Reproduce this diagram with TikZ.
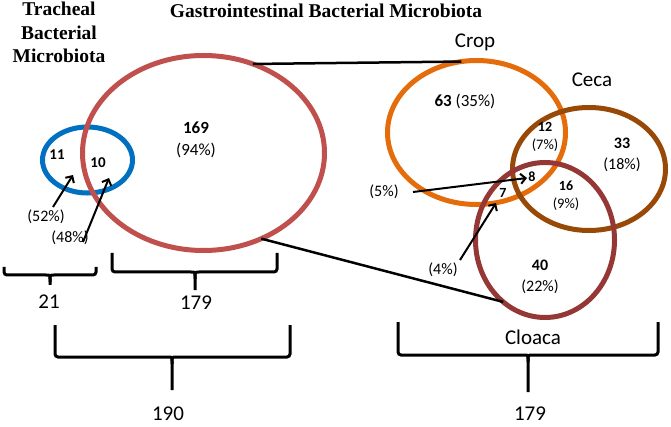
\documentclass[tikz,border=0pt]{standalone}
\usepackage{fontspec}
\setmainfont{Carlito}
\newfontfamily\headfont{Liberation Serif}
\usetikzlibrary{arrows.meta,shapes.geometric}
\definecolor{trachblue}{HTML}{0070C0}
\definecolor{gired}{HTML}{C0504D}
\definecolor{croporange}{HTML}{E46C0A}
\definecolor{cecabrown}{HTML}{984807}
\definecolor{cloacared}{HTML}{953735}
\tikzset{ring/.style={ellipse,draw=#1,line width=5pt,inner sep=0pt,outer sep=0pt},
num/.style={font=\bfseries\fontsize{#1}{#1}\selectfont,inner sep=0pt},
pct/.style={font=\fontsize{#1}{#1}\selectfont,inner sep=0pt},
head/.style={font=\headfont\bfseries\fontsize{19.5}{23.5}\selectfont,align=center,inner sep=0pt},
link/.style={line width=2.5pt},
pointer/.style={-{Straight Barb[length=5pt,width=10pt]},line width=2pt},
brace/.style={line width=3pt,rounded corners=3pt}}

\begin{document}
\begin{tikzpicture}[x=1pt,y=-1pt]
\useasboundingbox (0,0) rectangle (671,427);
% titles
\node[head,anchor=north](trachtitle) at (59,2){Tracheal\\Bacterial\\Microbiota};
\node[head,anchor=north](gititle) at (326,4){Gastrointestinal Bacterial Microbiota};
% venn rings
\node[ring=trachblue,minimum width=90pt,minimum height=66pt](trach) at (87.5,160){};
\node[ring=gired,minimum width=242pt,minimum height=195pt](gi) at (203.5,153){};
\node[ring=croporange,minimum width=178pt,minimum height=144pt](crop) at (476.5,132.5){};
\node[ring=cecabrown,minimum width=153pt,minimum height=123pt](ceca) at (589,169){};
\node[ring=cloacared,minimum width=139pt,minimum height=155pt](cloaca) at (545,240){};
% ring names
\node[pct=21](cropname) at (475,42){Crop};
\node[pct=21](cecaname) at (592,80){Ceca};
\node[pct=21](cloacaname) at (533,337){Cloaca};
% counts
\node[num=15](n11) at (57,155){11};
\node[num=15](n10) at (98,163){10};
\node[num=17](n169) at (196,128){169};
\node[pct=17](p94) at (196,150){(94\%)};
\node[pct=17](n63) at (465,101){\textbf{63} (35\%)};
\node[num=14](n12) at (545,127){12};
\node[pct=14.5](p7) at (545,145){(7\%)};
\node[num=16](n33) at (622,143){33};
\node[pct=16](p18) at (622,165){(18\%)};
\node[num=14](n16) at (566,186){16};
\node[pct=14.5](p9) at (566,204){(9\%)};
\node[num=14](n8) at (532,177){8};
\node[num=14](n7) at (503,193){7};
\node[num=16](n40) at (540,265){40};
\node[pct=16](p22) at (540,287){(22\%)};
% pointed shares
\node[pct=16](p52) at (46,217){(52\%)};
\node[pct=16](p48) at (70,238){(48\%)};
\node[pct=16](p5) at (384,192){(5\%)};
\node[pct=16](p4) at (443,270){(4\%)};
\coordinate (t52) at (53,207); \coordinate (h52) at (73,175);
\coordinate (t48) at (83,242); \coordinate (h48) at (109,178);
\coordinate (t5) at (413,192); \coordinate (h5) at (527,178);
\coordinate (t4) at (460,260); \coordinate (h4) at (496,203);
\draw[pointer](t52)--(h52);
\draw[pointer](t48)--(h48);
\draw[pointer](t5)--(h5);
\draw[pointer](t4)--(h4);
% zoom lines
\draw[link](gi.61.7)--(crop.102.4);
\draw[link](gi.-56)--(cloaca.236.5);
% braces
\foreach \l/\r/\t/\h/\c/\b in {4/96/267/275/50/284,112/277/253/272/195/290,55/290/325/357/172/390,398/658/322/355/528/392}{
\draw[brace](\l,\t)--(\l,\h)--(\c-7,\h) .. controls (\c,\h) .. (\c,\h+7)--(\c,\b);
\draw[brace](\r,\t)--(\r,\h)--(\c+7,\h) .. controls (\c,\h) .. (\c,\h+7);
}
\node[pct=21](tot21) at (49,302){21};
\node[pct=21](tot179) at (196,303){179};
\node[pct=21](tot190) at (168,414){190};
\node[pct=21](totgi) at (530,414){179};
\end{tikzpicture}
\end{document}
